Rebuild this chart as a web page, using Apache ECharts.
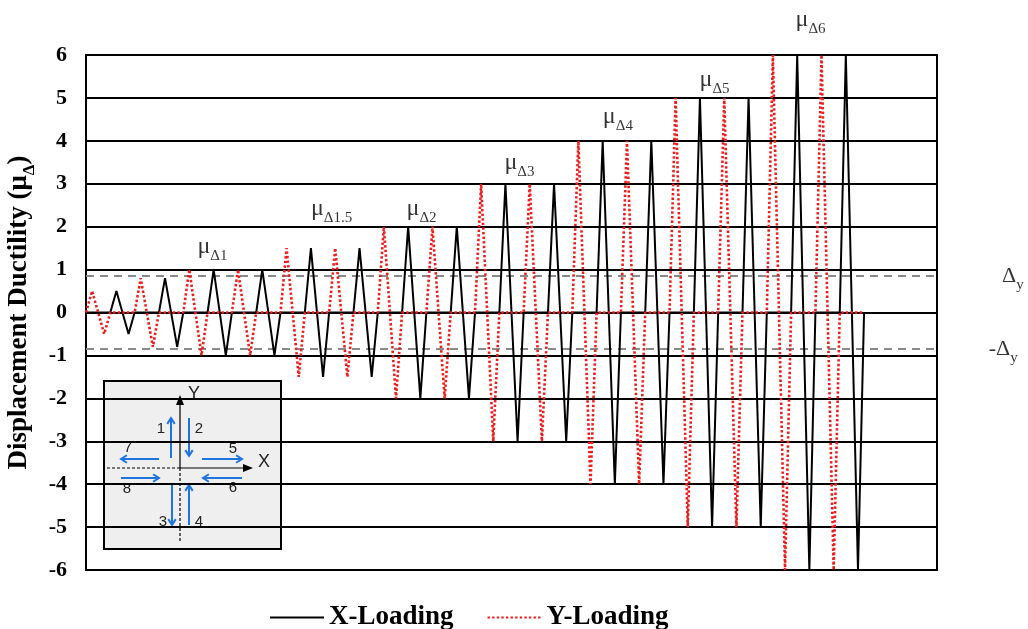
<!DOCTYPE html>
<html><head><meta charset="utf-8">
<script src="https://cdn.jsdelivr.net/npm/echarts@6/dist/echarts.min.js"></script>
<style>html,body{margin:0;padding:0;background:#fff}#c{width:1028px;height:629px}</style>
</head><body><div id="c"></div><script>
// ---- data ----
// amplitude (displacement ductility) of each loading stage, in order;
// at every stage one Y-direction cycle is applied, then one X-direction cycle
const stageLevels = [0.5, 0.8, 1, 1, 1.5, 1.5, 2, 2, 3, 3, 4, 4, 5, 5, 6, 6];
// shape of a single cycle: [step offset, sign of amplitude]
const cycleShape = [[0, 0], [1, 1], [3, -1], [4, 0]];
const yieldDuctility = 0.85;          // ±Δy dashed lines
const yTickValues = [-6, -5, -4, -3, -2, -1, 0, 1, 2, 3, 4, 5, 6];
const stageNames = ['Δ1', 'Δ1.5', 'Δ2', 'Δ3', 'Δ4', 'Δ5', 'Δ6'];
const seriesNames = ['X-Loading', 'Y-Loading'];

// build time histories (step, ductility) from the stage amplitudes
const xLoading = [], yLoading = [];
let step = 0;
stageLevels.forEach(a => {
  cycleShape.forEach(([dt, s]) => yLoading.push([step + dt, s * a]));
  xLoading.push([step, 0], [step + 4, 0]);
  step += 4;
  cycleShape.forEach(([dt, s]) => xLoading.push([step + dt, s * a]));
  yLoading.push([step, 0], [step + 4, 0]);
  step += 4;
});

// ---- layout / annotation anchors (in data coordinates) ----
const stageLabelAnchors = [[20.8, 1.54], [40.4, 2.42], [55.2, 2.42], [71.3, 3.49], [87.5, 4.56], [103.4, 5.43], [119.2, 6.83]];
const serif = "'Liberation Serif', 'Times New Roman', serif";
const sans = "'Liberation Sans', Arial, sans-serif";

const muRich = {
  m: { fontFamily: serif, fontSize: 24, color: '#000', lineHeight: 26 },
  s: { fontFamily: serif, fontSize: 15, color: '#000', lineHeight: 16, verticalAlign: 'bottom', padding: [0, 0, -4, 0] }
};

const chart = echarts.init(document.getElementById('c'), null, { renderer: 'canvas' });

function arrow(x1, y1, x2, y2, color, w, h) {
  const ang = Math.atan2(y2 - y1, x2 - x1);
  const a1 = ang + Math.PI * 0.82, a2 = ang - Math.PI * 0.82;
  return {
    type: 'group', children: [
      { type: 'line', shape: { x1, y1, x2, y2 }, style: { stroke: color, lineWidth: w } },
      { type: 'polyline', shape: { points: [[x2 + h * Math.cos(a1), y2 + h * Math.sin(a1)], [x2, y2], [x2 + h * Math.cos(a2), y2 + h * Math.sin(a2)]] }, style: { stroke: color, lineWidth: w, fill: null } }
    ]
  };
}
const blue = '#1f74e0';
function num(t, x, y) {
  return { type: 'text', x, y, style: { text: t, font: '15px ' + sans, fill: '#222', align: 'center', verticalAlign: 'middle' } };
}
const cx = 180, cy = 468;
const inset = {
  type: 'group', z: 100, children: [
    { type: 'rect', shape: { x: 104, y: 381, width: 177, height: 168 }, style: { fill: '#efefef', stroke: '#000', lineWidth: 2 } },
    { type: 'line', shape: { x1: 107, y1: cy, x2: cx, y2: cy }, style: { stroke: '#000', lineWidth: 1.2, lineDash: [3, 2] } },
    { type: 'line', shape: { x1: cx, y1: cy, x2: cx, y2: 543 }, style: { stroke: '#000', lineWidth: 1.2, lineDash: [3, 2] } },
    { type: 'line', shape: { x1: cx, y1: cy, x2: cx, y2: 400 }, style: { stroke: '#000', lineWidth: 1.2 } },
    { type: 'polygon', shape: { points: [[cx, 395], [cx - 4, 405], [cx + 4, 405]] }, style: { fill: '#000' } },
    { type: 'line', shape: { x1: cx, y1: cy, x2: 248, y2: cy }, style: { stroke: '#000', lineWidth: 1.2 } },
    { type: 'polygon', shape: { points: [[253, cy], [243, cy - 4], [243, cy + 4]] }, style: { fill: '#000' } },
    { type: 'text', x: 194, y: 394, style: { text: 'Y', font: '18px ' + sans, fill: '#222', align: 'center', verticalAlign: 'middle' } },
    { type: 'text', x: 264, y: 462, style: { text: 'X', font: '18px ' + sans, fill: '#222', align: 'center', verticalAlign: 'middle' } },
    arrow(171, 458, 171, 418, blue, 2, 7),
    arrow(189, 418, 189, 456, blue, 2, 7),
    arrow(202, 459, 242, 459, blue, 2, 7),
    arrow(159, 459, 121, 459, blue, 2, 7),
    arrow(121, 478, 159, 478, blue, 2, 7),
    arrow(242, 478, 203, 478, blue, 2, 7),
    arrow(172, 485, 172, 525, blue, 2, 7),
    arrow(189, 525, 189, 485, blue, 2, 7),
    num('1', 161, 429), num('2', 199, 429), num('5', 233, 449), num('7', 128, 448),
    num('8', 127, 489), num('6', 233, 488), num('3', 163, 522), num('4', 199, 522)
  ]
};

const option = {
  animation: false,
  backgroundColor: '#fff',
  grid: { left: 86, right: 91, top: 55, bottom: 59, show: true, borderColor: '#000', borderWidth: 2, backgroundColor: 'transparent',
    outerBoundsMode: 'none', containLabel: false },
  xAxis: { type: 'value', min: 0, max: 140, show: false, splitLine: { show: false } },
  yAxis: {
    type: 'value', min: -6, max: 6, interval: 1,
    axisLine: { show: true, lineStyle: { color: '#000', width: 2 } },
    axisTick: { show: false },
    splitLine: { show: true, lineStyle: { color: '#000', width: 1.8 } },
    axisLabel: { color: '#000', fontFamily: serif, fontWeight: 'bold', fontSize: 22, margin: 19,
      formatter: v => yTickValues.includes(v) ? String(v) : '' },
    name: '{a|Displacement Ductility (μ}{b|Δ}{a|)}',
    nameLocation: 'middle', nameGap: 50, nameRotate: 90,
    nameTextStyle: {
      rich: {
        a: { fontFamily: serif, fontWeight: 'bold', fontSize: 27, color: '#000', lineHeight: 30 },
        b: { fontFamily: serif, fontWeight: 'bold', fontSize: 17, color: '#000', lineHeight: 18, verticalAlign: 'bottom', padding: [0, 0, -4, 0] }
      }
    }
  },
  legend: {
    data: seriesNames, bottom: -7, left: 264, itemGap: 33, itemWidth: 54, itemHeight: 10,
    itemStyle: { opacity: 0 },
    textStyle: { fontFamily: serif, fontWeight: 'bold', fontSize: 27, color: '#000' }
  },
  series: [
    { name: 'Δy+', type: 'line', data: [[0, yieldDuctility], [146.3, yieldDuctility]], symbol: 'none', clip: false, silent: true,
      lineStyle: { color: '#8a8a8a', width: 2, type: [8, 6] }, z: 1 },
    { name: 'Δy-', type: 'line', data: [[0, -yieldDuctility], [146.3, -yieldDuctility]], symbol: 'none', clip: false, silent: true,
      lineStyle: { color: '#8a8a8a', width: 2, type: [8, 6] }, z: 1 },
    { name: seriesNames[0], type: 'line', data: xLoading, symbol: 'none', lineStyle: { color: '#000', width: 2 }, itemStyle: { color: '#000' }, z: 3 },
    { name: seriesNames[1], type: 'line', data: yLoading, symbol: 'none', lineStyle: { color: '#ee1c1c', width: 2.6, type: [2.4, 2.2] }, itemStyle: { color: '#ee1c1c' }, z: 4 },
    { name: 'labels', type: 'scatter', symbolSize: 0, clip: false, silent: true, z: 5,
      data: stageNames.map((n, i) => ({ value: stageLabelAnchors[i], name: n })),
      label: { show: true, position: 'inside', formatter: p => '{m|μ}{s|' + p.name + '}', rich: muRich } },
    { name: 'ylabels', type: 'scatter', symbolSize: 0, clip: false, silent: true, z: 5,
      data: [{ value: [150.7, yieldDuctility], name: 'Δ' }, { value: [148.5, -yieldDuctility], name: '-Δ' }],
      label: { show: true, position: 'right', distance: 0, formatter: p => '{m|' + p.name + '}{s|y}',
        rich: { m: { fontFamily: serif, fontSize: 22, color: '#000', lineHeight: 24 }, s: { fontFamily: serif, fontSize: 15, color: '#000', lineHeight: 16, verticalAlign: 'bottom', padding: [0, 0, -5, 0] } } } }
  ],
  graphic: [inset]
};
chart.setOption(option);
</script></body></html>
